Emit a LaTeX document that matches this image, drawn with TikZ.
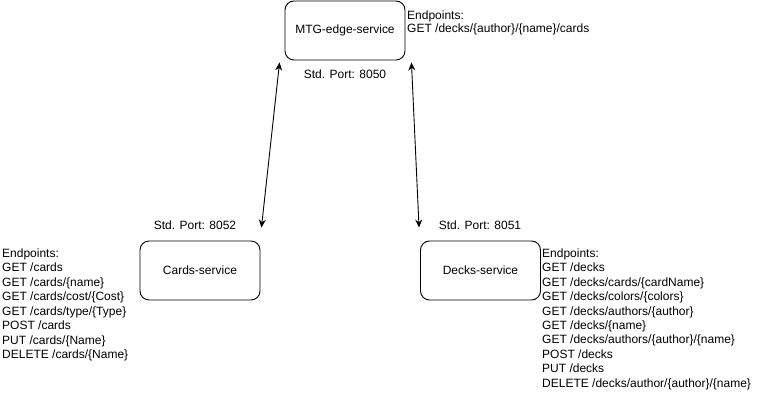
\documentclass[tikz,border=0pt]{standalone}
\usepackage{fontspec}
\setmainfont{Liberation Sans}
\usetikzlibrary{positioning,arrows.meta}

\tikzset{
  service/.style={draw, rounded corners=9pt, minimum width=120pt, minimum height=59pt, line width=0.9pt},
  port/.style={inner sep=0pt},
  endpoint/.style={anchor=base west, inner sep=0pt},
}

\begin{document}
\begin{tikzpicture}[x=1pt, y=-1pt, >={Stealth[length=8pt,width=7pt]}, font=\fontsize{12}{14.4}\selectfont]
	\useasboundingbox (0,0) rectangle (761,411);
	
	% services
	\node [service] (edge) at (345,30.5) {MTG-edge-service};
	\node [service] (cards) at (200,270.5) {Cards-service};
	\node [service] (decks) at (480.5,270.5) {Decks-service};
	
	% ports
	\node [port] (edge-port) at (345,74) {Std. Port: 8050};
	\node [port] (cards-port) at (195,225) {Std. Port: 8052};
	\node [port] (decks-port) at (480,225) {Std. Port: 8051};
	
	% endpoints
	\foreach \t [count=\i from 0] in {Endpoints:, GET /decks/\{author\}/\{name\}/cards}
	  \node [endpoint] (edge-ep-\i) at (407,19.3+\i*13.4) {\t};
	
	\foreach \t [count=\i from 0] in {Endpoints:, GET /cards, GET /cards/\{name\},
	    GET /cards/cost/\{Cost\}, GET /cards/type/\{Type\}, POST /cards,
	    PUT /cards/\{Name\}, DELETE /cards/\{Name\}}
	  \node [endpoint] (cards-ep-\i) at (2,257.5+\i*14.5) {\t};
	
	\foreach \t [count=\i from 0] in {Endpoints:, GET /decks, GET /decks/cards/\{cardName\},
	    GET /decks/colors/\{colors\}, GET /decks/authors/\{author\}, GET /decks/\{name\},
	    GET /decks/authors/\{author\}/\{name\}, POST /decks, PUT /decks,
	    DELETE /decks/author/\{author\}/\{name\}}
	  \node [endpoint] (decks-ep-\i) at (542,257.5+\i*14.4) {\t};
	
	% links
	\draw [<->, line width=0.9pt] ([shift={(-5,2)}]edge.south west) -- ([shift={(1,-13)}]cards.north east);
	\draw [<->, line width=0.9pt] ([shift={(6,2)}]edge.south east) -- ([shift={(-1,-13)}]decks.north west);
\end{tikzpicture}
\end{document}
